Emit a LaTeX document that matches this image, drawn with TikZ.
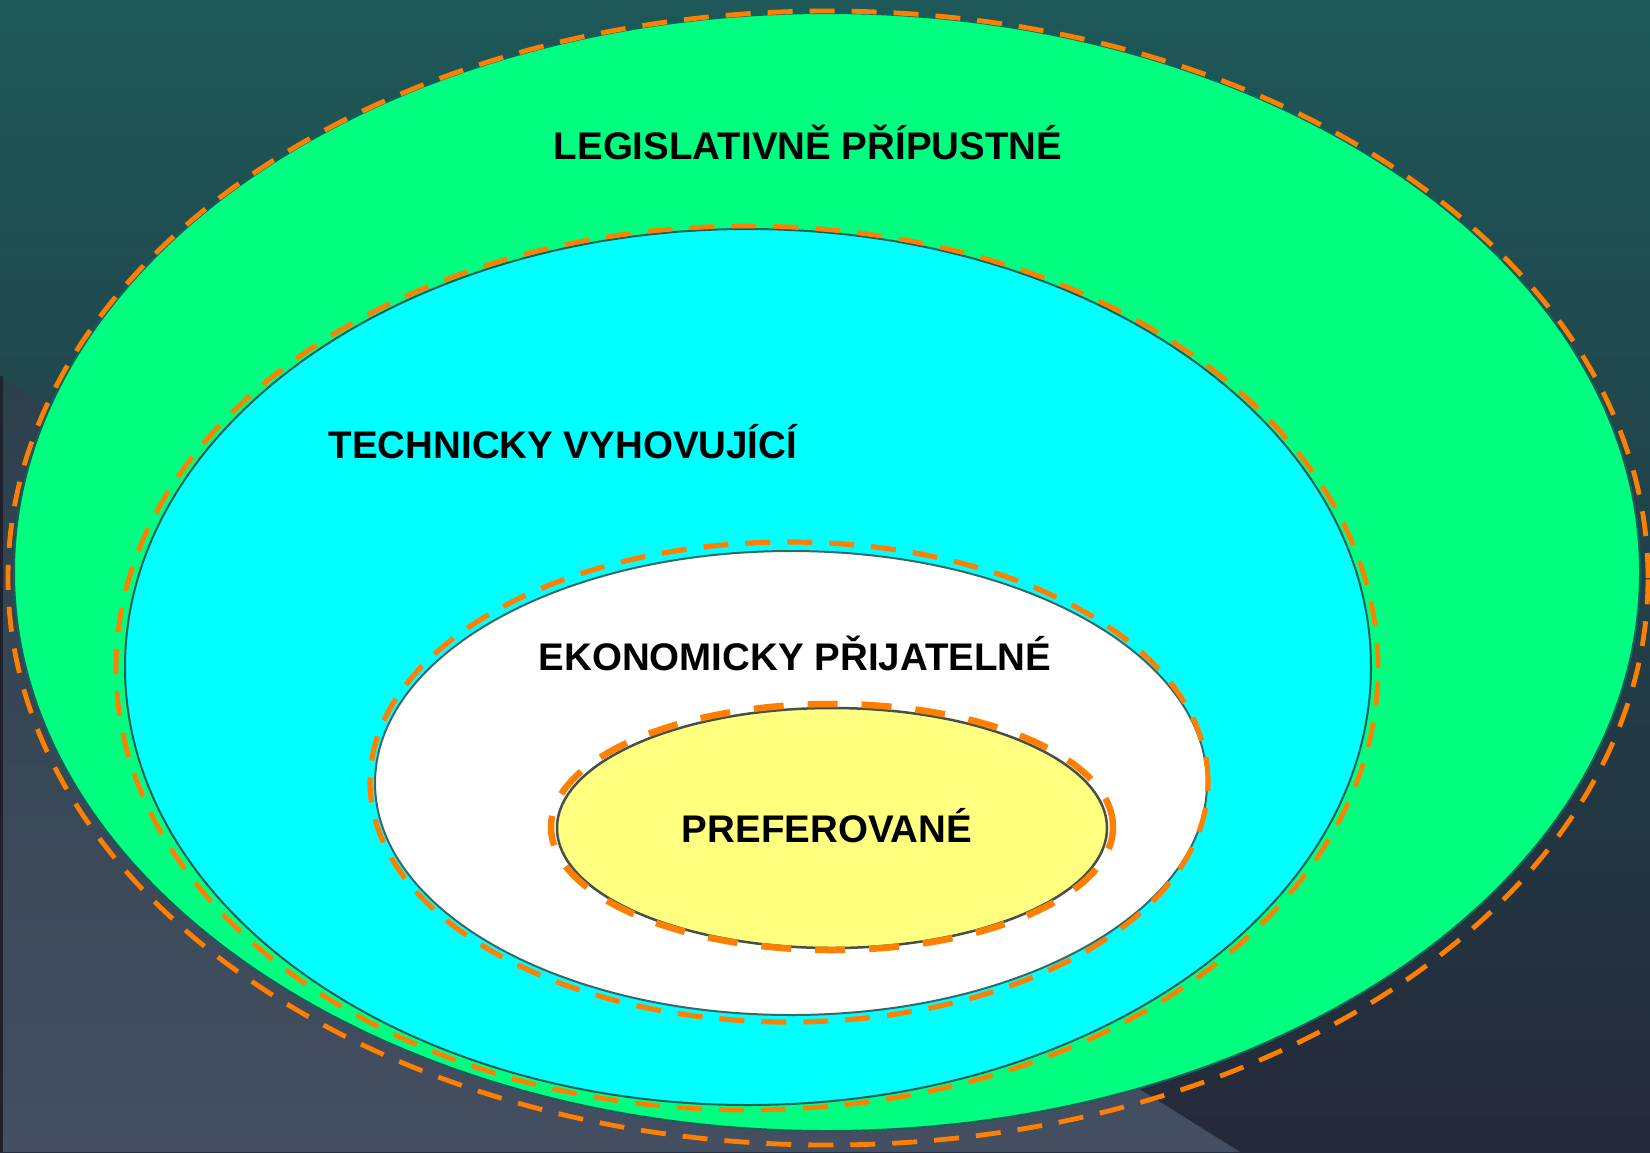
\documentclass[tikz,border=0pt]{standalone}
\usepackage{fontspec}
\setmainfont{Liberation Sans}
\definecolor{bgtop}{RGB}{30,88,88}
\definecolor{bgmid}{RGB}{43,62,74}
\definecolor{bgbot}{RGB}{37,41,58}
\definecolor{ltop}{RGB}{44,64,76}
\definecolor{lbot}{RGB}{68,79,97}
\definecolor{legfill}{RGB}{0,255,128}
\definecolor{techfill}{RGB}{0,255,255}
\definecolor{prefill}{RGB}{255,255,128}
\definecolor{dashor}{RGB}{255,128,0}
\definecolor{rimteal}{RGB}{20,95,90}
\definecolor{rimgrey}{RGB}{70,80,70}
\begin{document}
\begin{tikzpicture}[x=1pt,y=-1pt,
  rim/.style={line width=2pt},
  ordash/.style={draw=dashor,line width=4.8pt,dash pattern=on 25pt off 17pt},
  ordashthick/.style={draw=dashor,line width=6.5pt,dash pattern=on 30pt off 24pt},
  label/.style={font=\bfseries\fontsize{38.5}{40}\selectfont,text=black,anchor=base,inner sep=0pt}]
\useasboundingbox (0,0) rectangle (1650,1152);
% background
\shade[top color=bgtop,middle color=bgmid,bottom color=bgbot] (0,0) rectangle (1650,1152);
\shade[top color=ltop,bottom color=lbot] (0,376) -- (1240,1152) -- (0,1152) -- cycle;
\fill[bgbot!80!black] (0,376) rectangle (3,1152);
% legislative
\filldraw[fill=legfill,draw=rimteal,rim] (827,572) ellipse [x radius=813pt, y radius=559pt];
\draw[ordash] (828,578) ellipse [x radius=820pt, y radius=567pt];
% technical
\filldraw[fill=techfill,draw=rimteal,rim] (748,667) ellipse [x radius=623pt, y radius=438pt];
\draw[ordash] (747,668) ellipse [x radius=631pt, y radius=442pt];
% economic
\filldraw[fill=white,draw=rimteal!70!gray,rim] (791,783) ellipse [x radius=416pt, y radius=232pt];
\draw[ordash,line width=5.2pt] (789,782) ellipse [x radius=419pt, y radius=240pt];
% preferred
\filldraw[fill=prefill,draw=rimgrey,line width=2.5pt] (832,828) ellipse [x radius=275pt, y radius=120pt];
\draw[ordashthick] (832,827) ellipse [x radius=281pt, y radius=123pt];
% labels
\node[label] (leg) at (808,159) {LEGISLATIVNĚ PŘÍPUSTNÉ};
\node[label] (tech) at (563,458) {TECHNICKY VYHOVUJÍCÍ};
\node[label] (eko) at (795,670) {EKONOMICKY PŘIJATELNÉ};
\node[label] (pref) at (827,842) {PREFEROVANÉ};
\end{tikzpicture}
\end{document}
